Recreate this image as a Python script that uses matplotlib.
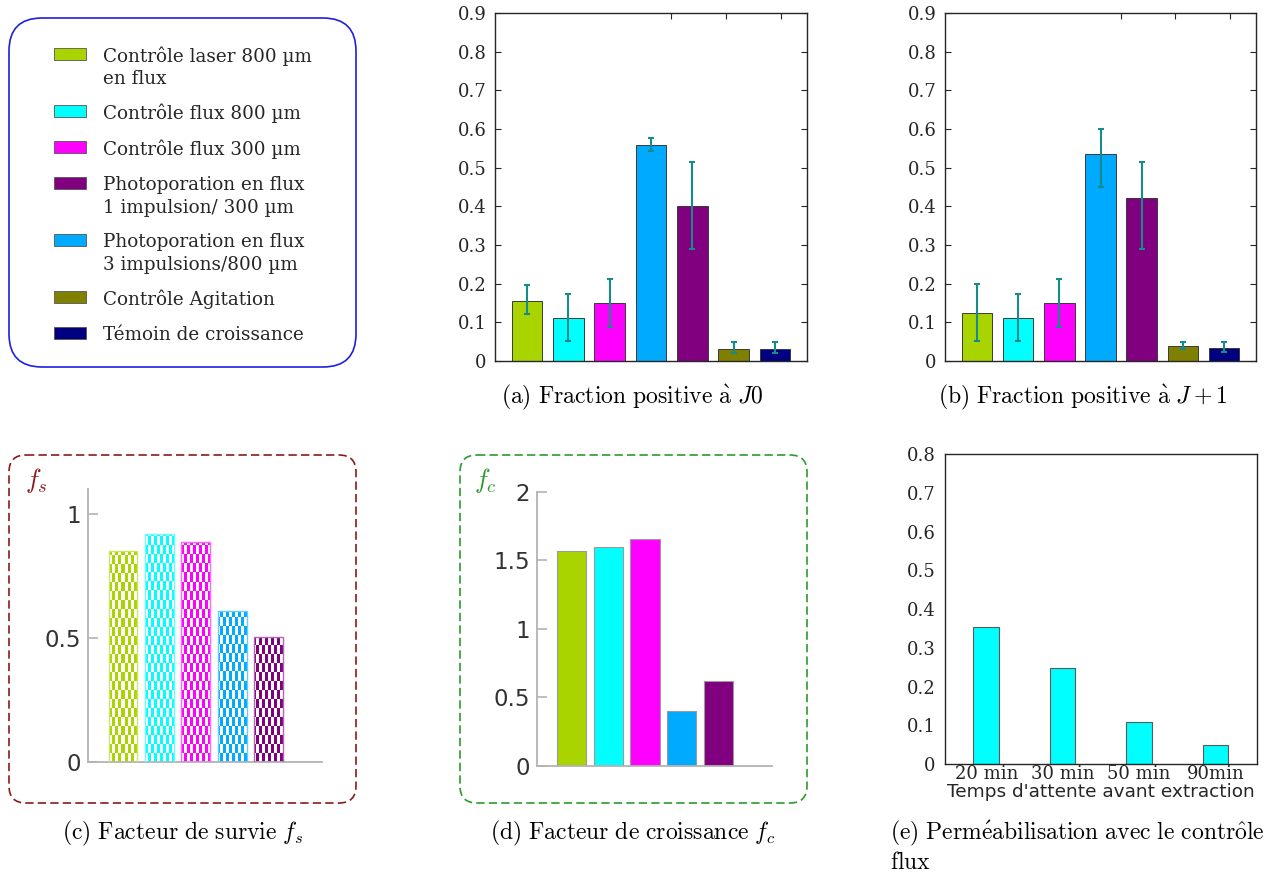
import numpy as np
import matplotlib
matplotlib.use('Agg')
import matplotlib.pyplot as plt
from matplotlib.patches import FancyBboxPatch, Rectangle
from matplotlib.colors import to_rgb
from matplotlib.ticker import FuncFormatter

plt.rcParams['mathtext.fontset'] = 'cm'

# ---------------- data ----------------
bar_labels = ["Contrôle laser 800 µm\nen flux", "Contrôle flux 800 µm", "Contrôle flux 300 µm",
              "Photoporation en flux\n3 impulsions/800 µm", "Photoporation en flux\n1 impulsion/ 300 µm",
              "Contrôle Agitation", "Témoin de croissance"]
bar_colors = ["#AAD400", "#00FFFF", "#FF00FF", "#00AAFF", "#800080", "#808000", "#000080"]
legend_order = [0, 1, 2, 4, 3, 5, 6]

frac_j0 = [0.156, 0.112, 0.149, 0.558, 0.400, 0.032, 0.032]
frac_j0_lo = [0.122, 0.052, 0.087, 0.542, 0.289, 0.021, 0.021]
frac_j0_hi = [0.196, 0.174, 0.211, 0.577, 0.514, 0.048, 0.048]

frac_j1 = [0.124, 0.112, 0.149, 0.536, 0.422, 0.039, 0.034]
frac_j1_lo = [0.052, 0.052, 0.087, 0.450, 0.289, 0.032, 0.022]
frac_j1_hi = [0.198, 0.174, 0.211, 0.600, 0.514, 0.048, 0.049]

fs_vals = [0.850, 0.920, 0.888, 0.609, 0.502]
fc_vals = [1.565, 1.599, 1.652, 0.401, 0.618]

wait_labels = ["20 min", "30 min", "50 min", "90min"]
perm_vals = [0.353, 0.249, 0.108, 0.050]

frac_yticks = [0, 0.1, 0.2, 0.3, 0.4, 0.5, 0.6, 0.7, 0.8, 0.9]
perm_yticks = [0, 0.1, 0.2, 0.3, 0.4, 0.5, 0.6, 0.7, 0.8]
fs_yticks = [0, 0.5, 1]
fc_yticks = [0, 0.5, 1, 1.5, 2]
top_ticks = [4.49, 5.82, 7.15]

captions = {
    'a': ("(a) Fraction positive à", "J0"),
    'b': ("(b) Fraction positive à", "J+1"),
    'c': ("(c) Facteur de survie", "f_s"),
    'd': ("(d) Facteur de croissance", "f_c"),
    'e1': ("(e) Perméabilisation avec le contrôle", None),
    'e2': ("flux", None),
}

W_PX, H_PX = 1287, 872
fig = plt.figure(figsize=(W_PX / 100, H_PX / 100), dpi=100)

# overlay in pixel coordinates for decorations
ov = fig.add_axes([0, 0, 1, 1])
ov.set_xlim(0, W_PX)
ov.set_ylim(H_PX, 0)
ov.axis('off')


def fax(x0, y0, x1, y1):
    return fig.add_axes([x0 / W_PX, (H_PX - y1) / H_PX, (x1 - x0) / W_PX, (y1 - y0) / H_PX])


DARK = '#262626'
SERIF = 'DejaVu Serif'
fmt = FuncFormatter(lambda v, p: '0' if abs(v) < 1e-9 else ('%g' % v))


def frac_panel(ax, vals, lo, hi):
    vals = np.array(vals); lo = np.array(lo); hi = np.array(hi)
    x = np.arange(1, len(vals) + 1)
    ax.bar(x, vals, width=0.74, color=bar_colors, edgecolor='#3a3a3a', linewidth=0.7, zorder=2)
    ax.errorbar(x, vals, yerr=[vals - lo, hi - vals], fmt='none', ecolor='#178a8a',
                elinewidth=1.5, capsize=2.4, capthick=1.5, zorder=3)
    ax.set_xlim(0.225, 7.775)
    ax.set_ylim(0, 0.9)
    ax.set_yticks(frac_yticks)
    ax.yaxis.set_major_formatter(fmt)
    ax.set_xticks(top_ticks)
    ax.tick_params(axis='x', bottom=False, top=True, labelbottom=False, direction='in',
                   length=4, color=DARK)
    ax.tick_params(axis='y', left=True, right=True, direction='in', length=4, color=DARK,
                   labelsize=13, pad=6, labelcolor=DARK)
    for lab in ax.get_yticklabels():
        lab.set_fontfamily(SERIF)
    for s in ax.spines.values():
        s.set_color(DARK); s.set_linewidth(1.0)


ax_a = fax(495, 13, 807, 361)
frac_panel(ax_a, frac_j0, frac_j0_lo, frac_j0_hi)
ax_b = fax(945, 13, 1256, 361)
frac_panel(ax_b, frac_j1, frac_j1_lo, frac_j1_hi)


def factor_panel(ax, vals, yticks, ylim):
    x = np.arange(1, len(vals) + 1)
    ax.set_xlim(0.04, 6.46)
    ax.set_ylim(*ylim)
    for s in ['top', 'right']:
        ax.spines[s].set_visible(False)
    for s in ['left', 'bottom']:
        ax.spines[s].set_color('#b3b3b3'); ax.spines[s].set_linewidth(1.3)
    ax.set_xticks([])
    ax.set_yticks(yticks)
    ax.yaxis.set_major_formatter(fmt)
    ax.tick_params(axis='y', direction='in', length=7, width=1.2, color='#b3b3b3',
                   labelsize=16.5, labelcolor='#333333', pad=5)
    for lab in ax.get_yticklabels():
        lab.set_fontfamily('DejaVu Sans')
    ax.patch.set_visible(False)
    return x


# (c) survival factor with textured (checkered) bars
ax_c = fax(88, 489, 322, 762)
xc = factor_panel(ax_c, fs_vals, fs_yticks, (0, 1.1))
bars_c = ax_c.bar(xc, fs_vals, width=0.79, color='none',
                  edgecolor=[tuple(0.6 * np.array(to_rgb(c)) + 0.4) for c in bar_colors[:5]],
                  linewidth=1.0, zorder=3)
Wt, Ht = 234, 273
cols = np.arange(Wt)
rows = np.arange(Ht)
mask = (((cols // 3)[None, :] + (rows // 9)[:, None]) % 2) == 0
for b, c in zip(bars_c, bar_colors[:5]):
    img = np.ones((Ht, Wt, 3))
    img[mask] = to_rgb(c)
    im = ax_c.imshow(img, extent=(0.04, 6.46, 0, 1.1), origin='lower', aspect='auto',
                     interpolation='nearest', zorder=2)
    im.set_clip_path(b)
ax_c.set_xlim(0.04, 6.46)
ax_c.set_ylim(0, 1.1)

# (d) growth factor
ax_d = fax(536.7, 491.7, 771.7, 765.7)
xd = factor_panel(ax_d, fc_vals, fc_yticks, (0, 2))
ax_d.bar(xd, fc_vals, width=0.8, color=bar_colors[:5], edgecolor='#9a9a9a', linewidth=0.8, zorder=2)

# (e) permeabilisation
ax_e = fax(945, 454, 1256.7, 764)
xe = np.arange(1, len(perm_vals) + 1)
ax_e.bar(xe, perm_vals, width=0.335, color='#00FFFF', edgecolor='#5a5a5a', linewidth=0.8, zorder=2)
ax_e.set_xlim(0.46, 4.54)
ax_e.set_ylim(0, 0.8)
ax_e.set_yticks(perm_yticks)
ax_e.yaxis.set_major_formatter(fmt)
ax_e.set_xticks(xe)
ax_e.set_xticklabels(wait_labels, fontfamily=SERIF)
ax_e.tick_params(axis='both', length=0, labelsize=13, labelcolor=DARK)
ax_e.tick_params(axis='x', pad=1)
ax_e.tick_params(axis='y', pad=7)
for lab in ax_e.get_yticklabels():
    lab.set_fontfamily(SERIF)
ax_e.set_xlabel("Temps d'attente avant extraction", fontsize=13.3, family='DejaVu Sans',
                color=DARK, labelpad=0)
for s in ax_e.spines.values():
    s.set_color(DARK); s.set_linewidth(1.0)

# ---------- decorations ----------
ov.add_patch(FancyBboxPatch((9, 18), 347, 349, boxstyle='round,pad=0,rounding_size=33',
                            facecolor='none', edgecolor='#1f1fe0', linewidth=1.2))
ov.add_patch(FancyBboxPatch((9, 455), 347, 348, boxstyle='round,pad=0,rounding_size=17',
                            facecolor='none', edgecolor='#8b1a1a', linewidth=1.2,
                            linestyle=(0, (5, 2.5))))
ov.add_patch(FancyBboxPatch((460, 455), 347, 348, boxstyle='round,pad=0,rounding_size=17',
                            facecolor='none', edgecolor='#2e9a2e', linewidth=1.2,
                            linestyle=(0, (5, 2.5))))
ov.text(25, 480, r'$f_s$', color='#8b1a1a', fontsize=19, va='center', ha='left')
ov.text(474, 480, r'$f_c$', color='#2e9a2e', fontsize=19, va='center', ha='left')

# legend
y = 54
for idx in legend_order:
    lines = bar_labels[idx].split('\n')
    ov.add_patch(Rectangle((54, y - 6), 32, 12, facecolor=bar_colors[idx], edgecolor='#555555',
                           linewidth=0.6))
    for k, ln in enumerate(lines):
        ov.text(103, y + 23 * k, ln, fontsize=13.2, family=SERIF, color=DARK,
                va='center_baseline', ha='left')
    y += 36 + 21 * (len(lines) - 1)


# captions in Computer Modern via mathtext
def cm_text(plain, math=None):
    rep = {' ': r'\ ', 'à': r'\grave{a}', 'é': r'\acute{e}', 'ô': r'\hat{o}'}
    body = ''.join(rep.get(ch, ch) for ch in plain)
    s = r'$\mathrm{' + body + '}'
    if math:
        s += r'\ ' + math
    return s + '$'


CAPFS = 17
ov.text(632.5, 397, cm_text(*captions['a']), fontsize=CAPFS, ha='center', va='center')
ov.text(1082.5, 397, cm_text(*captions['b']), fontsize=CAPFS, ha='center', va='center')
ov.text(182.5, 833, cm_text(*captions['c']), fontsize=CAPFS, ha='center', va='center')
ov.text(632.5, 833, cm_text(*captions['d']), fontsize=CAPFS, ha='center', va='center')
ov.text(890, 833, cm_text(*captions['e1']), fontsize=CAPFS, ha='left', va='center')
ov.text(890, 862, cm_text(*captions['e2']), fontsize=CAPFS, ha='left', va='center')

fig.savefig('out.png', dpi=100)
